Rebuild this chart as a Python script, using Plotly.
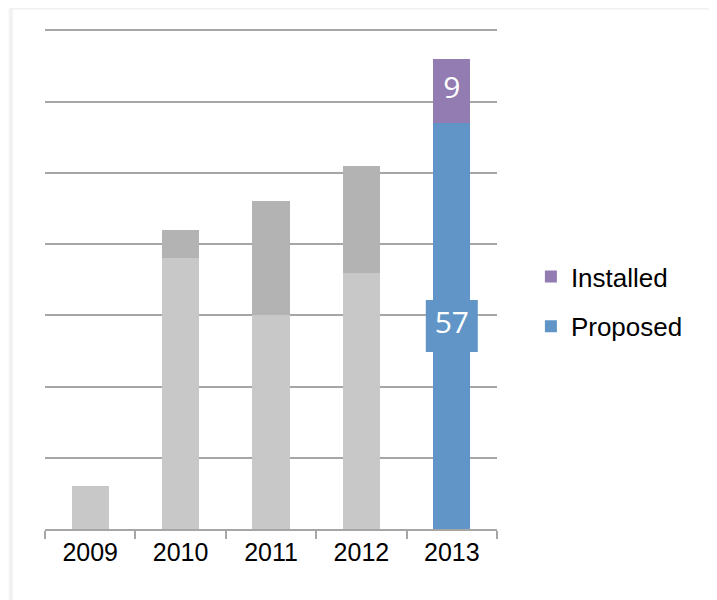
import plotly.graph_objects as go

years = ["2009", "2010", "2011", "2012", "2013"]
# grey history: lower and upper parts of each stacked bar
grey_lower = [6, 38, 30, 36, 0]
grey_upper = [0, 4, 16, 15, 0]
# 2013 highlighted
proposed = [0, 0, 0, 0, 57]
installed = [0, 0, 0, 0, 9]

BLUE = "#6195c7"
PURPLE = "#937cb2"

fig = go.Figure()
fig.add_trace(go.Bar(x=years, y=grey_lower, marker_color="#c8c8c8", showlegend=False))
fig.add_trace(go.Bar(x=years, y=grey_upper, marker_color="#b3b3b3", showlegend=False))
fig.add_trace(go.Bar(x=years, y=proposed, name="Proposed", marker_color=BLUE,
                     legendgroup="p", legendrank=2))
fig.add_trace(go.Bar(x=years, y=installed, name="Installed", marker_color=PURPLE,
                     legendgroup="i", legendrank=1))
fig.update_traces(marker_line_width=0)

# value labels on the highlighted bar (boxed, centred in each segment)
lx, ly, lt, lc, ls = [], [], [], [], []
for i, yr in enumerate(years):
    if proposed[i] == 0:
        continue
    lx += [yr, yr]
    ly += [proposed[i] / 2, proposed[i] + installed[i] / 2]
    lt += [str(proposed[i]), str(installed[i])]
    lc += [BLUE, PURPLE]
    ls += [52, 36]
fig.add_trace(go.Scatter(x=lx, y=ly, text=lt, mode="markers+text",
                         textposition="middle center", opacity=1,
                         marker=dict(symbol="square", color=lc, size=ls,
                                     opacity=1, line_width=0),
                         textfont=dict(family="Open Sans", size=30, color="white"),
                         showlegend=False, hoverinfo="skip", cliponaxis=False))

fig.update_layout(
    width=717, height=600,
    barmode="stack", bargap=0.59,
    margin=dict(l=37, r=228, t=18, b=79),
    paper_bgcolor="#fafafa", plot_bgcolor="white",
    font=dict(family="Liberation Sans, Arial", color="black"),
    legend=dict(x=1.075, y=0.452, yanchor="middle", xanchor="left",
                traceorder="grouped", tracegroupgap=13,
                font=dict(size=26), bgcolor="rgba(0,0,0,0)"),
    # light frame around the chart
    shapes=[dict(type="rect", xref="paper", yref="paper", layer="below",
                 x0=-0.075, x1=1.48, y0=-0.2, y1=1.036,
                 fillcolor="white", line=dict(color="#f0f0f0", width=3))],
)
fig.update_xaxes(type="category", range=[-0.5, len(years) - 0.5],
                 showline=True, linecolor="#a6a6a6", linewidth=2,
                 ticks="outside", tickson="boundaries", ticklen=8,
                 tickcolor="#a6a6a6", tickwidth=2,
                 tickfont=dict(size=25), showgrid=False)
fig.update_yaxes(range=[0, 70.6], dtick=10, showgrid=True, gridcolor="#a6a6a6",
                 gridwidth=2, showticklabels=False, zeroline=False, ticks="")

fig.write_html("out.html")
